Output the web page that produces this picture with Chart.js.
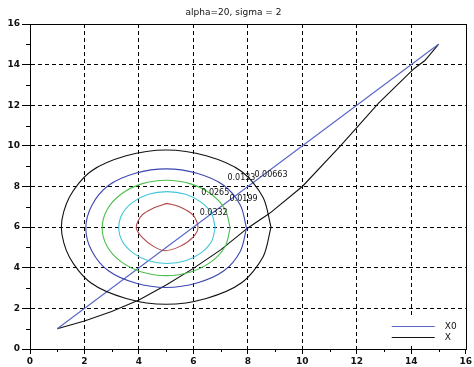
<!DOCTYPE html>
<html>
<head>
<meta charset="utf-8">
<script src="https://cdn.jsdelivr.net/npm/chart.js@4.4.0/dist/chart.umd.min.js"></script>
<style>
body{margin:0;background:#fff}
canvas{display:block}
</style>
</head>
<body>
<canvas id="myChart" width="474" height="367"></canvas>
<script>
const chartTitle = 'alpha=20, sigma = 2';

// straight reference line X0 and the trajectory X
const x0X = [1, 15];
const x0Y = [1, 15];
const xX = [1, 2, 3, 4, 5, 6, 7, 8, 8.8, 10, 11.4, 12.8, 14.1, 14.5, 15];
const xY = [1, 1.38, 1.85, 2.41, 3.15, 3.97, 4.88, 5.96, 6.68, 8.0, 10.0, 12.1, 13.8, 14.2, 15];

// contour levels (outer to inner)
const levels = ['0.00663', '0.0133', '0.0199', '0.0265', '0.0332'];
const levelColors = ['#111111', '#3b46b0', '#4cc04c', '#3fc6da', '#b04848'];

const c1X = [8.85, 8.56, 7.77, 6.47, 5.0, 3.53, 2.23, 1.44, 1.15, 1.44, 2.23, 3.53, 5.0, 6.47, 7.77, 8.56, 8.85];
const c1Y = [6.0, 7.46, 8.74, 9.51, 9.8, 9.51, 8.74, 7.46, 6.0, 4.54, 3.26, 2.49, 2.2, 2.49, 3.26, 4.54, 6.0];
const c2X = [7.95, 7.73, 7.12, 6.13, 5.0, 3.87, 2.88, 2.27, 2.05, 2.27, 2.88, 3.87, 5.0, 6.13, 7.12, 7.73, 7.95];
const c2Y = [5.95, 7.07, 8.05, 8.65, 8.87, 8.65, 8.05, 7.07, 5.95, 4.83, 3.85, 3.25, 3.03, 3.25, 3.85, 4.83, 5.95];
const c3X = [7.35, 7.17, 6.66, 5.9, 5.0, 4.1, 3.34, 2.83, 2.65, 2.83, 3.34, 4.1, 5.0, 5.9, 6.66, 7.17, 7.35];
const c3Y = [5.96, 6.86, 7.62, 8.13, 8.31, 8.13, 7.62, 6.86, 5.96, 5.06, 4.3, 3.79, 3.61, 3.79, 4.3, 5.06, 5.96];
const c4X = [6.8, 6.67, 6.28, 5.71, 5.03, 4.35, 3.78, 3.39, 3.26, 3.39, 3.78, 4.35, 5.03, 5.71, 6.28, 6.67, 6.8];
const c4Y = [5.98, 6.66, 7.23, 7.62, 7.75, 7.62, 7.23, 6.66, 5.98, 5.3, 4.73, 4.34, 4.21, 4.34, 4.73, 5.3, 5.98];
const c5X = [5.03, 5.49, 5.98, 6.17, 5.98, 5.49, 4.95, 4.55, 4.12, 3.9, 4.12, 4.55, 5.03];
const c5Y = [7.17, 7.0, 6.6, 6.0, 5.5, 5.04, 4.84, 5.04, 5.5, 6.0, 6.6, 6.95, 7.17];

// where each contour's level text sits (data coords, left edge / middle)
const labelX = [8.24, 7.25, 7.33, 6.29, 6.23];
const labelY = [8.57, 8.40, 7.41, 7.68, 6.70];

function toPoints(xs, ys){
    const pts = [];
    for(let i = 0; i < xs.length; i++){
        pts.push({x: xs[i], y: ys[i]});
    }
    return pts;
}

function lineSet(label, xs, ys, color, inLegend, tension){
    return {
        label: label,
        data: toPoints(xs, ys),
        showLine: true,
        borderColor: color,
        borderWidth: 1.1,
        pointRadius: 0,
        tension: tension,
        inLegend: inLegend
    };
}

const contourX = [c1X, c2X, c3X, c4X, c5X];
const contourY = [c1Y, c2Y, c3Y, c4Y, c5Y];
const datasets = [];
for(let i = 0; i < levels.length; i++){
    datasets.push(lineSet(levels[i], contourX[i], contourY[i], levelColors[i], false, 0.3));
}
datasets.push(lineSet('X0', x0X, x0Y, '#5666c8', true, 0));
datasets.push(lineSet('X', xX, xY, '#111111', true, 0));

const decorPlugin = {
    id: 'decor',
    afterDraw(chart){
        const ctx = chart.ctx;
        const a = chart.chartArea;
        const xs = chart.scales.x, ys = chart.scales.y;
        ctx.save();
        ctx.strokeStyle = '#000';
        ctx.lineWidth = 1;
        ctx.setLineDash([]);
        // minor ticks
        ctx.beginPath();
        for(let v = 1; v < 16; v += 2){
            const px = Math.round(xs.getPixelForValue(v)) + 0.5;
            ctx.moveTo(px, a.bottom); ctx.lineTo(px, a.bottom + 3);
            const py = Math.round(ys.getPixelForValue(v)) + 0.5;
            ctx.moveTo(a.left - 4, py); ctx.lineTo(a.left, py);
        }
        ctx.stroke();
        // frame
        ctx.strokeRect(Math.round(a.left) + 0.5, Math.round(a.top) + 0.5,
            Math.round(a.right - a.left), Math.round(a.bottom - a.top));

        // contour level texts
        ctx.fillStyle = '#111';
        ctx.font = '8px "DejaVu Sans"';
        ctx.textAlign = 'left';
        ctx.textBaseline = 'middle';
        for(let i = 0; i < levels.length; i++){
            ctx.fillText(levels[i], xs.getPixelForValue(labelX[i]), ys.getPixelForValue(labelY[i]));
        }

        // legend, bottom right inside the plot
        const items = chart.data.datasets.filter(d => d.inLegend);
        const lx = a.right - 81, ly = a.bottom - 33;
        ctx.fillStyle = '#fff';
        ctx.fillRect(lx, ly, 76, 29);
        ctx.font = '9px "DejaVu Sans"';
        for(let i = 0; i < items.length; i++){
            const yy = ly + 10.5 + i * 11;
            ctx.strokeStyle = items[i].borderColor;
            ctx.beginPath();
            ctx.moveTo(lx + 7, yy); ctx.lineTo(lx + 50, yy);
            ctx.stroke();
            ctx.fillStyle = '#111';
            ctx.fillText(items[i].label, lx + 60, yy);
        }
        ctx.restore();
    }
};

function axisOpts(tickLen, pad){
    return {
        type: 'linear',
        min: 0,
        max: 16,
        ticks: {
            stepSize: 2,
            color: '#111',
            padding: pad,
            font: {family: '"DejaVu Sans"', size: 9, weight: 'bold'}
        },
        grid: {
            color: (c) => (c.tick && (c.tick.value === 0 || c.tick.value === 16)) ? 'rgba(0,0,0,0)' : '#000',
            lineWidth: 1,
            tickColor: '#000',
            tickLength: tickLen,
            tickBorderDash: []
        },
        border: {display: true, color: '#000', width: 1, dash: [4, 3]}
    };
}

const xOpts = axisOpts(5, 2);
xOpts.afterFit = (s) => { s.height = 18; };
const yOpts = axisOpts(8, 2);
yOpts.afterFit = (s) => { s.width = 30; };

const config = {
    type: 'scatter',
    data: {datasets},
    options: {
        responsive: false,
        animation: false,
        devicePixelRatio: 1,
        layout: {padding: {left: 0, right: 7, top: 0, bottom: 0}},
        plugins: {
            legend: {display: false},
            tooltip: {enabled: false},
            title: {
                display: true,
                text: chartTitle,
                color: '#111',
                font: {family: '"DejaVu Sans"', size: 9, weight: 'normal'},
                padding: {top: 7, bottom: 6.2}
            }
        },
        scales: {x: xOpts, y: yOpts}
    },
    plugins: [decorPlugin]
};

const myChart = new Chart(document.getElementById('myChart'), config);
</script>
</body>
</html>
